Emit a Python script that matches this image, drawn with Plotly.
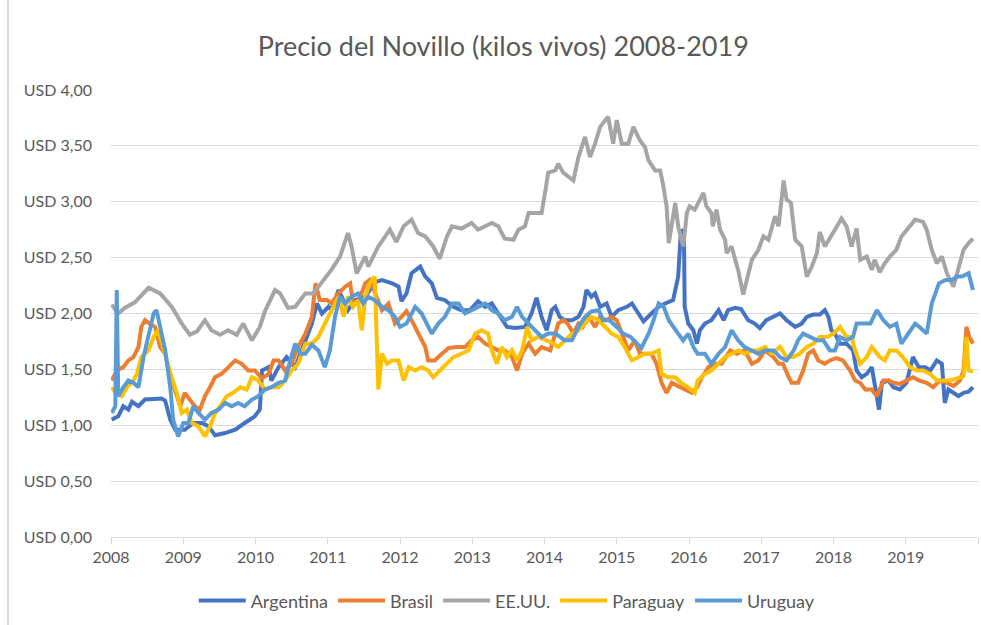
import plotly.graph_objects as go

# ---- data (decimal year, USD per kg live weight) ----
arg_x = [2008.01,2008.10,2008.17,2008.24,2008.29,2008.38,2008.47,2008.70,2008.75,2008.82,2008.89,2009.02,2009.14,2009.26,2009.35,2009.44,2009.58,2009.72,2009.85,2009.99,2010.06,2010.09,2010.18,2010.22,2010.32,2010.43,2010.55,2010.69,2010.78,2010.85,2010.92,2011.01,2011.05,2011.15,2011.28,2011.38,2011.52,2011.65,2011.75,2011.89,2011.98,2012.02,2012.09,2012.16,2012.28,2012.35,2012.44,2012.51,2012.62,2012.74,2012.85,2012.97,2013.08,2013.18,2013.27,2013.36,2013.48,2013.59,2013.73,2013.82,2013.89,2013.96,2014.03,2014.10,2014.15,2014.21,2014.28,2014.38,2014.47,2014.54,2014.58,2014.65,2014.70,2014.77,2014.86,2014.93,2015.02,2015.14,2015.21,2015.30,2015.37,2015.48,2015.58,2015.67,2015.78,2015.85,2015.89,2015.93,2015.94,2015.99,2016.06,2016.11,2016.15,2016.22,2016.31,2016.41,2016.48,2016.54,2016.64,2016.72,2016.82,2016.91,2016.98,2017.07,2017.17,2017.26,2017.35,2017.47,2017.56,2017.63,2017.72,2017.81,2017.88,2017.93,2017.97,2018.02,2018.09,2018.18,2018.27,2018.32,2018.39,2018.46,2018.53,2018.57,2018.63,2018.67,2018.76,2018.83,2018.92,2019.01,2019.10,2019.18,2019.27,2019.34,2019.43,2019.50,2019.54,2019.59,2019.66,2019.73,2019.80,2019.87,2019.93]
arg_y = [1.05,1.08,1.17,1.14,1.21,1.17,1.23,1.24,1.22,1.05,0.96,0.96,1.02,1.02,0.99,0.91,0.93,0.96,1.02,1.08,1.14,1.49,1.52,1.40,1.52,1.61,1.52,1.76,1.91,2.09,2.00,2.06,2.03,2.21,2.03,2.12,2.15,2.28,2.30,2.27,2.24,2.11,2.18,2.36,2.42,2.33,2.27,2.14,2.12,2.06,2.03,2.03,2.11,2.06,2.09,2.00,1.88,1.87,1.88,2.00,2.14,1.97,1.85,2.03,2.06,1.97,1.94,1.94,1.97,2.06,2.21,2.15,2.18,2.06,2.09,1.97,2.03,2.06,2.09,2.00,1.93,2.00,2.06,2.09,2.12,2.33,2.75,2.72,2.06,1.91,1.85,1.73,1.85,1.91,1.94,2.03,1.94,2.03,2.05,2.04,1.94,1.91,1.87,1.94,1.97,2.00,1.94,1.88,1.91,1.97,1.99,1.99,2.03,1.97,1.85,1.82,1.73,1.73,1.67,1.49,1.43,1.46,1.52,1.38,1.14,1.38,1.40,1.34,1.32,1.38,1.61,1.52,1.52,1.49,1.58,1.55,1.20,1.32,1.29,1.26,1.29,1.30,1.34]

bra_x = [2008.01,2008.08,2008.17,2008.24,2008.31,2008.38,2008.42,2008.47,2008.54,2008.61,2008.68,2008.75,2008.82,2008.89,2008.96,2009.02,2009.09,2009.16,2009.23,2009.30,2009.37,2009.44,2009.53,2009.62,2009.72,2009.81,2009.90,2009.99,2010.09,2010.18,2010.25,2010.32,2010.41,2010.50,2010.59,2010.69,2010.78,2010.83,2010.89,2010.99,2011.05,2011.15,2011.24,2011.31,2011.35,2011.42,2011.52,2011.58,2011.65,2011.75,2011.84,2011.93,2012.02,2012.09,2012.16,2012.25,2012.35,2012.39,2012.48,2012.58,2012.67,2012.78,2012.90,2012.99,2013.08,2013.18,2013.27,2013.36,2013.45,2013.55,2013.62,2013.69,2013.78,2013.87,2013.96,2014.08,2014.19,2014.26,2014.32,2014.40,2014.47,2014.53,2014.61,2014.70,2014.77,2014.85,2014.93,2015.00,2015.09,2015.16,2015.25,2015.32,2015.39,2015.48,2015.55,2015.62,2015.69,2015.76,2015.85,2015.94,2016.04,2016.11,2016.18,2016.27,2016.36,2016.45,2016.57,2016.66,2016.77,2016.87,2016.96,2017.05,2017.17,2017.24,2017.30,2017.38,2017.42,2017.51,2017.58,2017.65,2017.72,2017.79,2017.88,2017.95,2018.04,2018.13,2018.23,2018.30,2018.37,2018.44,2018.53,2018.60,2018.64,2018.69,2018.76,2018.83,2018.92,2019.01,2019.10,2019.19,2019.29,2019.38,2019.47,2019.57,2019.66,2019.75,2019.80,2019.84,2019.88,2019.93]
bra_y = [1.40,1.49,1.52,1.58,1.61,1.70,1.88,1.94,1.91,1.88,1.70,1.64,1.43,1.29,1.17,1.29,1.23,1.17,1.14,1.26,1.34,1.43,1.46,1.52,1.58,1.55,1.49,1.49,1.42,1.46,1.58,1.58,1.49,1.55,1.70,1.82,1.97,2.27,2.12,2.12,2.09,2.18,2.24,2.27,2.09,2.10,2.27,2.30,2.18,2.03,2.09,1.91,1.97,2.02,1.94,1.82,1.70,1.58,1.58,1.64,1.69,1.70,1.70,1.76,1.79,1.73,1.70,1.67,1.67,1.61,1.49,1.64,1.73,1.64,1.70,1.67,1.91,1.94,1.91,1.82,1.91,1.88,1.97,1.88,1.97,1.94,1.97,1.94,1.79,1.67,1.76,1.64,1.64,1.64,1.55,1.38,1.29,1.38,1.35,1.32,1.29,1.34,1.43,1.52,1.55,1.55,1.67,1.64,1.67,1.55,1.58,1.67,1.61,1.55,1.55,1.43,1.38,1.38,1.49,1.64,1.67,1.58,1.55,1.58,1.60,1.58,1.49,1.40,1.38,1.32,1.32,1.26,1.32,1.40,1.40,1.38,1.37,1.40,1.43,1.40,1.38,1.34,1.40,1.38,1.35,1.40,1.49,1.88,1.79,1.73]

usa_x = [2008.01,2008.10,2008.19,2008.33,2008.52,2008.68,2008.84,2008.98,2009.09,2009.19,2009.30,2009.39,2009.51,2009.62,2009.74,2009.83,2009.95,2010.06,2010.13,2010.27,2010.34,2010.45,2010.55,2010.69,2010.80,2010.87,2010.99,2011.05,2011.17,2011.28,2011.33,2011.40,2011.52,2011.56,2011.70,2011.86,2011.95,2012.05,2012.16,2012.25,2012.35,2012.46,2012.55,2012.65,2012.72,2012.85,2012.99,2013.08,2013.27,2013.36,2013.45,2013.57,2013.64,2013.73,2013.78,2013.96,2014.02,2014.05,2014.15,2014.19,2014.26,2014.35,2014.40,2014.47,2014.56,2014.63,2014.70,2014.77,2014.84,2014.88,2014.95,2015.00,2015.07,2015.16,2015.23,2015.32,2015.39,2015.44,2015.53,2015.60,2015.64,2015.69,2015.72,2015.76,2015.81,2015.85,2015.92,2015.97,2016.01,2016.08,2016.15,2016.20,2016.24,2016.31,2016.33,2016.38,2016.43,2016.50,2016.52,2016.59,2016.64,2016.68,2016.75,2016.80,2016.87,2016.96,2017.03,2017.10,2017.19,2017.24,2017.31,2017.35,2017.41,2017.47,2017.56,2017.63,2017.70,2017.77,2017.81,2017.88,2017.95,2018.02,2018.11,2018.18,2018.25,2018.32,2018.37,2018.46,2018.53,2018.57,2018.64,2018.71,2018.78,2018.87,2018.94,2019.01,2019.13,2019.24,2019.29,2019.36,2019.43,2019.50,2019.57,2019.66,2019.73,2019.80,2019.87,2019.93]
usa_y = [2.08,2.00,2.05,2.10,2.23,2.18,2.06,1.91,1.81,1.84,1.94,1.85,1.81,1.85,1.81,1.91,1.76,1.88,2.02,2.21,2.18,2.05,2.06,2.18,2.18,2.24,2.34,2.39,2.51,2.72,2.60,2.36,2.51,2.42,2.60,2.75,2.64,2.78,2.84,2.72,2.69,2.60,2.49,2.69,2.78,2.76,2.81,2.75,2.81,2.78,2.67,2.66,2.75,2.78,2.90,2.90,3.13,3.26,3.28,3.34,3.26,3.22,3.19,3.40,3.58,3.40,3.52,3.67,3.73,3.76,3.52,3.73,3.52,3.52,3.67,3.55,3.49,3.37,3.28,3.28,3.16,2.96,2.63,2.81,2.99,2.78,2.60,2.90,2.96,2.93,3.02,3.08,2.96,2.90,2.78,2.93,2.75,2.66,2.54,2.60,2.48,2.39,2.17,2.30,2.48,2.57,2.69,2.66,2.87,2.78,3.19,3.02,2.99,2.66,2.60,2.33,2.42,2.54,2.73,2.60,2.67,2.75,2.85,2.78,2.60,2.76,2.48,2.51,2.39,2.48,2.37,2.45,2.51,2.57,2.69,2.75,2.84,2.82,2.75,2.57,2.45,2.51,2.36,2.24,2.39,2.57,2.63,2.67]

par_x = [2008.01,2008.06,2008.15,2008.22,2008.31,2008.36,2008.42,2008.52,2008.59,2008.65,2008.72,2008.77,2008.84,2008.91,2008.98,2009.05,2009.12,2009.21,2009.30,2009.37,2009.44,2009.51,2009.60,2009.69,2009.79,2009.88,2009.95,2010.04,2010.13,2010.22,2010.32,2010.41,2010.50,2010.59,2010.69,2010.78,2010.87,2010.96,2011.05,2011.15,2011.22,2011.28,2011.35,2011.42,2011.47,2011.52,2011.58,2011.65,2011.70,2011.75,2011.82,2011.89,2011.98,2012.05,2012.12,2012.21,2012.30,2012.39,2012.46,2012.55,2012.65,2012.74,2012.85,2012.95,2013.04,2013.13,2013.22,2013.27,2013.34,2013.41,2013.48,2013.55,2013.62,2013.69,2013.76,2013.82,2013.91,2014.01,2014.10,2014.19,2014.28,2014.38,2014.47,2014.56,2014.65,2014.75,2014.84,2014.93,2015.02,2015.11,2015.21,2015.30,2015.39,2015.48,2015.58,2015.62,2015.71,2015.81,2015.89,2015.99,2016.08,2016.12,2016.22,2016.31,2016.41,2016.50,2016.59,2016.68,2016.77,2016.87,2016.96,2017.05,2017.14,2017.26,2017.35,2017.44,2017.53,2017.63,2017.72,2017.81,2017.91,2018.00,2018.09,2018.18,2018.25,2018.30,2018.37,2018.46,2018.53,2018.64,2018.71,2018.78,2018.87,2018.96,2019.06,2019.15,2019.24,2019.34,2019.43,2019.52,2019.61,2019.71,2019.80,2019.84,2019.87,2019.93]
par_y = [1.34,1.29,1.26,1.34,1.40,1.46,1.61,1.67,1.79,1.85,1.70,1.58,1.43,1.29,1.11,1.14,1.02,0.99,0.90,0.99,1.11,1.17,1.26,1.29,1.34,1.32,1.43,1.40,1.32,1.34,1.34,1.40,1.49,1.55,1.73,1.73,1.79,1.91,2.03,2.15,1.97,2.15,2.06,2.12,1.85,2.15,2.27,2.33,1.32,1.64,1.55,1.58,1.58,1.40,1.52,1.49,1.52,1.49,1.43,1.49,1.55,1.61,1.64,1.67,1.82,1.85,1.82,1.67,1.55,1.70,1.61,1.67,1.58,1.67,1.88,1.76,1.79,1.76,1.74,1.70,1.76,1.82,1.85,1.91,1.97,1.94,1.88,1.82,1.79,1.70,1.58,1.61,1.64,1.64,1.67,1.46,1.43,1.43,1.38,1.34,1.29,1.40,1.46,1.49,1.55,1.61,1.64,1.67,1.64,1.67,1.67,1.70,1.64,1.70,1.61,1.61,1.64,1.70,1.73,1.79,1.79,1.82,1.88,1.79,1.79,1.67,1.55,1.61,1.70,1.61,1.58,1.67,1.67,1.61,1.52,1.49,1.49,1.46,1.40,1.40,1.40,1.42,1.44,1.79,1.49,1.48]

uru_x = [2008.01,2008.06,2008.08,2008.10,2008.17,2008.24,2008.31,2008.38,2008.45,2008.52,2008.59,2008.63,2008.68,2008.75,2008.82,2008.86,2008.93,2009.00,2009.07,2009.14,2009.21,2009.30,2009.39,2009.49,2009.58,2009.67,2009.76,2009.85,2009.95,2010.04,2010.13,2010.22,2010.32,2010.41,2010.48,2010.55,2010.62,2010.69,2010.78,2010.87,2010.96,2011.03,2011.10,2011.17,2011.24,2011.33,2011.42,2011.49,2011.56,2011.65,2011.75,2011.84,2011.93,2012.00,2012.09,2012.21,2012.30,2012.39,2012.44,2012.53,2012.62,2012.72,2012.81,2012.90,2012.99,2013.08,2013.18,2013.27,2013.36,2013.45,2013.55,2013.62,2013.69,2013.78,2013.87,2013.96,2014.05,2014.15,2014.28,2014.38,2014.47,2014.56,2014.65,2014.75,2014.81,2014.90,2015.00,2015.09,2015.19,2015.27,2015.34,2015.44,2015.51,2015.58,2015.65,2015.72,2015.78,2015.85,2015.92,2015.99,2016.06,2016.12,2016.22,2016.31,2016.41,2016.50,2016.59,2016.68,2016.77,2016.87,2016.96,2017.05,2017.17,2017.26,2017.35,2017.45,2017.51,2017.58,2017.67,2017.77,2017.86,2017.95,2018.02,2018.09,2018.18,2018.27,2018.32,2018.41,2018.51,2018.60,2018.69,2018.78,2018.87,2018.94,2019.03,2019.13,2019.19,2019.29,2019.36,2019.46,2019.55,2019.64,2019.71,2019.78,2019.87,2019.93]
uru_y = [1.11,1.17,2.21,1.26,1.34,1.40,1.38,1.34,1.61,1.79,2.00,2.03,1.88,1.67,1.34,1.05,0.90,1.02,1.02,1.17,1.11,1.05,1.11,1.14,1.20,1.17,1.20,1.17,1.23,1.26,1.32,1.34,1.38,1.40,1.58,1.73,1.64,1.64,1.72,1.67,1.52,1.67,1.97,2.15,2.09,2.15,2.18,2.09,2.15,2.12,2.06,2.03,1.97,1.88,1.91,2.06,2.00,1.88,1.82,1.91,1.97,2.09,2.09,2.00,2.03,2.06,2.09,2.03,2.00,1.94,1.97,2.06,1.97,1.91,1.85,1.79,1.82,1.82,1.76,1.76,1.88,1.97,2.02,2.03,1.94,1.94,1.88,1.82,1.79,1.73,1.69,1.82,1.94,2.09,2.06,1.94,1.88,1.82,1.76,1.82,1.70,1.64,1.64,1.55,1.64,1.70,1.85,1.76,1.70,1.67,1.64,1.67,1.67,1.61,1.58,1.67,1.76,1.82,1.79,1.76,1.76,1.67,1.67,1.79,1.76,1.79,1.91,1.91,1.91,2.03,1.94,1.88,1.91,1.73,1.82,1.91,1.88,1.82,2.09,2.27,2.30,2.30,2.33,2.33,2.36,2.21]

series = [
    ("Argentina", arg_x, arg_y, "#4472C4"),
    ("Brasil", bra_x, bra_y, "#ED7D31"),
    ("EE.UU.", usa_x, usa_y, "#A5A5A5"),
    ("Paraguay", par_x, par_y, "#FFC000"),
    ("Uruguay", uru_x, uru_y, "#5B9BD5"),
]

year_ticks = list(range(2008, 2021))
year_labels = [str(y) for y in range(2008, 2020)] + [""]
y_ticks = [0, 0.5, 1, 1.5, 2, 2.5, 3, 3.5, 4]
y_labels = ["USD 0,00", "USD 0,50", "USD 1,00", "USD 1,50", "USD 2,00",
            "USD 2,50", "USD 3,00", "USD 3,50", "USD 4,00"]

FONT = "Lato, 'Open Sans', sans-serif"
TXT = "#595959"
GRID = "#D9D9D9"

fig = go.Figure()
for name, xs, ys, col in series:
    fig.add_trace(go.Scatter(x=xs, y=ys, name=name, mode="lines",
                             line=dict(color=col, width=4, shape="linear")))

fig.update_layout(
    width=981, height=625,
    paper_bgcolor="white", plot_bgcolor="white",
    margin=dict(l=111, r=3, t=90, b=88),
    font=dict(family=FONT, color=TXT, size=16),
    title=dict(text="Precio del Novillo (kilos vivos) 2008-2019",
               x=0.513, xanchor="center", y=0.925, yanchor="middle",
               font=dict(family=FONT, size=27, color=TXT)),
    legend=dict(orientation="h", x=0.457, xanchor="center", y=-0.143, yanchor="middle",
                font=dict(family=FONT, size=18, color=TXT), itemwidth=47,
                traceorder="normal"),
    showlegend=True,
)
fig.update_xaxes(range=[2008, 2020], tickvals=year_ticks, ticktext=year_labels,
                 showgrid=False, zeroline=False, showline=True, linecolor=GRID, linewidth=1,
                 ticks="outside", ticklen=6, tickcolor=GRID,
                 tickfont=dict(family=FONT, size=16, color=TXT))
fig.update_yaxes(range=[0, 4], tickvals=y_ticks, ticktext=y_labels,
                 showgrid=True, gridcolor=GRID, gridwidth=1, zeroline=False,
                 showline=False, ticks="", ticklabelstandoff=18,
                 tickfont=dict(family=FONT, size=16, color=TXT))
# chart-area frame edge on the left
fig.add_shape(type="line", xref="paper", yref="paper",
              x0=-103/867, x1=-103/867, y0=-88/447, y1=1 + 90/447,
              line=dict(color="#CFCFCF", width=1.5))

fig.write_html("out.html", config={"displayModeBar": False},
               post_script="document.body.style.margin='0px';")
